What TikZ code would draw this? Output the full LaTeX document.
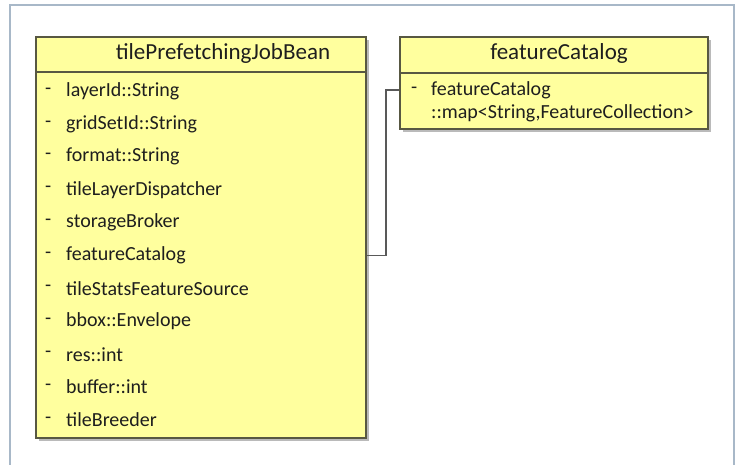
\documentclass[tikz,border=0pt]{standalone}
\usepackage{fontspec}
\setmainfont{Carlito}
\usetikzlibrary{shadows}
\definecolor{umlfill}{RGB}{255,255,158}
\definecolor{umlline}{RGB}{88,88,66}
\definecolor{frameline}{RGB}{168,184,200}
\definecolor{textgray}{RGB}{30,30,30}

\begin{document}
\begin{tikzpicture}[x=1pt, y=-1pt,
  classbox/.style={draw=umlline, line width=1.4pt, fill=umlfill, inner sep=0pt,
    drop shadow={shadow xshift=2.5pt, shadow yshift=-2.5pt, opacity=.45, fill=black!60}},
  headbox/.style={draw=umlline, line width=1.4pt, fill=umlfill, inner sep=0pt},
  title/.style={font=\fontsize{23}{26}\selectfont, text=textgray},
  member/.style={font=\fontsize{20}{23}\selectfont, text=textgray, anchor=west, inner sep=0pt},
  link/.style={draw=black!65, line width=1.3pt}
]
\useasboundingbox (0,0) rectangle (736,464);

% Outer frame
\draw[frameline, line width=1.2pt] (10,470) |- (734,5) -- (734,470);

% Class boxes
\node[classbox, minimum width=330pt, minimum height=401pt] (beanBody) at (201,237.5) {};
\node[headbox, minimum width=330pt, minimum height=35pt] (beanHead) at (201,54.5) {};
\node[classbox, minimum width=308pt, minimum height=92pt] (catBody) at (554,83) {};
\node[headbox, minimum width=308pt, minimum height=36pt] (catHead) at (554,55) {};

% Titles
\node[title] (beanTitle) at (223,53) {tilePrefetchingJobBean};
\node[title] (catTitle) at (559,53) {featureCatalog};

% Members of tilePrefetchingJobBean
\foreach \name [count=\i from 0] in {layerId::String, gridSetId::String, format::String,
    tileLayerDispatcher, storageBroker, featureCatalog, tileStatsFeatureSource,
    bbox::Envelope, res::int, buffer::int, tileBreeder} {
  \node[member] (dash\i) at (45,{91+32.9*\i}) {-};
  \node[member] (row\i) at (66,{91+32.9*\i}) {\name};
}

% Member of featureCatalog
\node[member] (catDash) at (411,90) {-};
\node[member] (catItem) at (431,90) {featureCatalog};
\node[member] (catType) at (431,113) {::map<String,FeatureCollection>};

% Connector
\coordinate (bend) at (386,0);
\draw[link] (beanBody.east |- row5) -- (bend |- row5) |- (catBody.west |- catItem);
\end{tikzpicture}
\end{document}
